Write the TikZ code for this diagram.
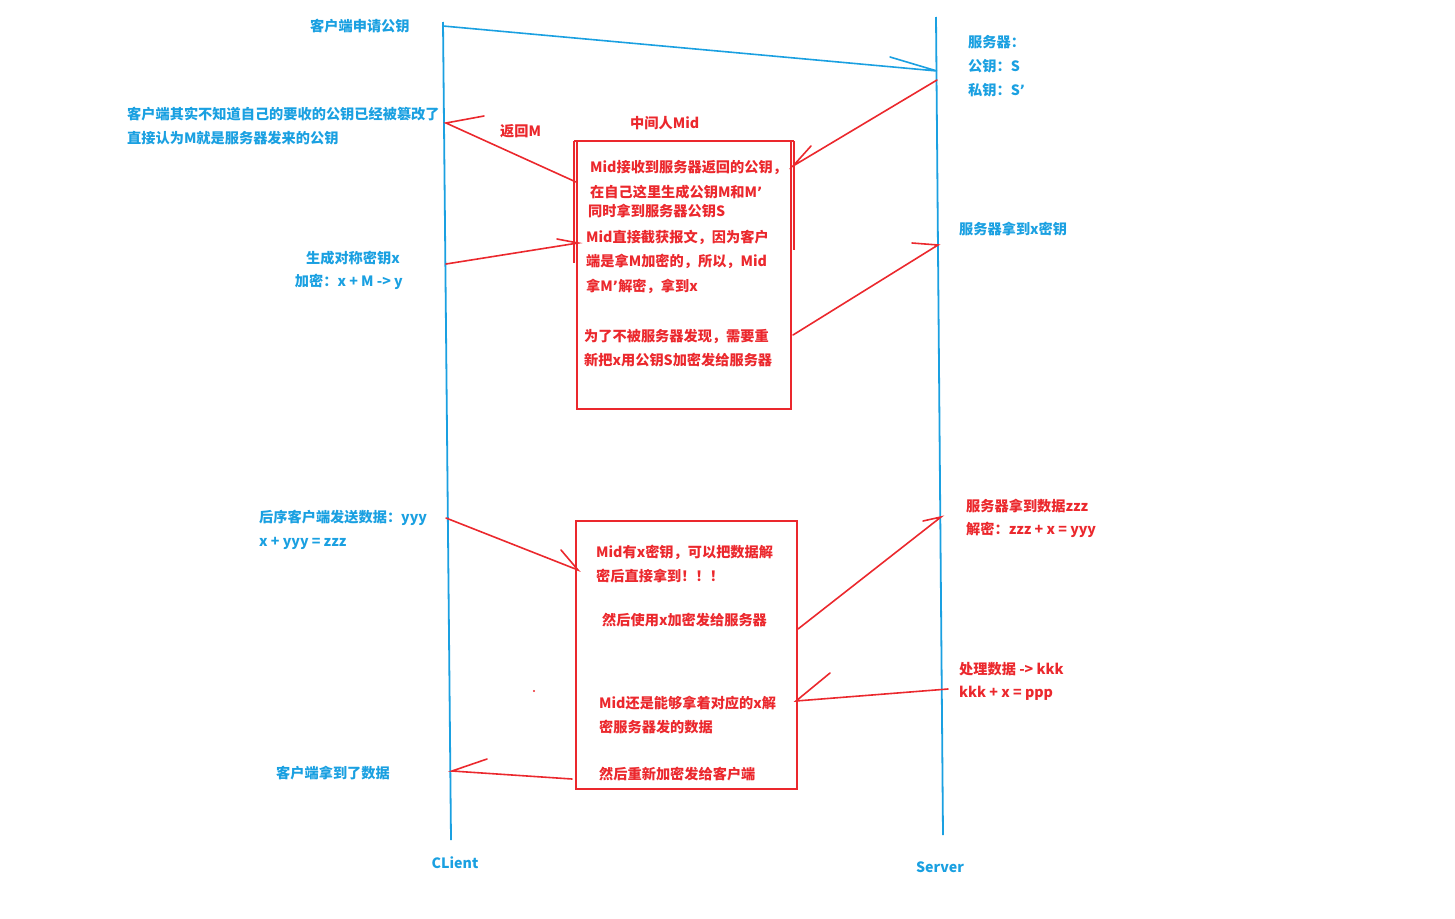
\documentclass[tikz,border=0pt]{standalone}
\usepackage{fontspec}
\setmainfont{Noto Sans CJK SC}
\newfontfamily\latinf{DejaVu Sans}
\newcommand{\apos}{{\latinf\bfseries ’}}
\definecolor{cblue}{RGB}{26,160,225}
\definecolor{cred}{RGB}{235,40,45}
\begin{document}
\begin{tikzpicture}[x=1pt,y=-1pt,
  lbl/.style={font=\bfseries\fontsize{14.2}{16}\selectfont, inner sep=0pt, anchor=west},
  bl/.style={lbl, text=cblue},
  rd/.style={lbl, text=cred},
  life/.style={draw=cblue, line width=1.8pt},
  msgb/.style={draw=cblue, line width=1.6pt, line cap=round},
  msgr/.style={draw=cred, line width=1.6pt, line cap=round},
  boxst/.style={draw=cred, line width=1.8pt, rectangle, inner sep=0pt}]
\useasboundingbox (0,0) rectangle (1455,918);
% lifelines
\coordinate (ctop) at (443,22); \coordinate (cbot) at (451,840);
\coordinate (stop) at (936,17); \coordinate (sbot) at (943,835);
\draw[life] (ctop) -- (cbot);
\draw[life] (stop) -- (sbot);
% boxes
\node[boxst, minimum width=214pt, minimum height=268pt] (box1) at (684,275) {};
\node[boxst, minimum width=221pt, minimum height=268pt] (box2) at (686.5,655) {};
\draw[draw=cred, line width=1.8pt] (574,141) -- (574,263);
\draw[draw=cred, line width=1.8pt] (794,141) -- (794,250);
\draw[draw=cred, line width=1.8pt] (574,141) -- (794,141);
% connector coordinates
\coordinate (c1) at (443,26); \coordinate (s1) at (937,71); \coordinate (b1) at (890,57);
\coordinate (s2) at (937,80); \coordinate (m1) at (793,166); \coordinate (b2) at (811,146);
\coordinate (m2) at (576,182); \coordinate (c2) at (446,123); \coordinate (b3) at (484,116);
\coordinate (c3) at (446,264); \coordinate (m3) at (578,243); \coordinate (b4) at (557,239);
\coordinate (m4) at (793,335); \coordinate (s3) at (938,245); \coordinate (b5) at (912,243);
\coordinate (c4) at (446,518); \coordinate (m5) at (578,570); \coordinate (b6) at (561,550);
\coordinate (m6) at (798,629); \coordinate (s4) at (941,517); \coordinate (b7) at (923,521);
\coordinate (s5) at (948,689); \coordinate (m7) at (796,701); \coordinate (b8) at (830,673);
\coordinate (m8) at (572,779); \coordinate (c5) at (452,771); \coordinate (b9) at (487,759);
% connectors
\draw[msgb] (c1) -- (s1) -- (b1);
\draw[msgr] (s2) -- (m1) -- (b2);
\draw[msgr] (m2) -- (c2) -- (b3);
\draw[msgr] (c3) -- (m3) -- (b4);
\draw[msgr] (m4) -- (s3) -- (b5);
\draw[msgr] (c4) -- (m5) -- (b6);
\draw[msgr] (m6) -- (s4) -- (b7);
\draw[msgr] (s5) -- (m7) -- (b8);
\draw[msgr] (m8) -- (c5) -- (b9);
\fill[cred] (534,691) circle (1.2);
% blue labels
\node[bl] (t1) at (310,26) {客户端申请公钥};
\node[bl] (t2) at (127,114) {客户端其实不知道自己的要收的公钥已经被篡改了};
\node[bl] (t3) at (127,138) {直接认为M就是服务器发来的公钥};
\node[bl, anchor=east] (t4) at (400,258) {生成对称密钥x};
\node[bl, anchor=east] (t5) at (403,282) {加密：x + M -> y};
\node[bl] (t6) at (968,42) {服务器：};
\node[bl] (t7) at (968,66) {公钥：S};
\node[bl] (t8) at (968,90) {私钥：S\apos};
\node[bl] (t9) at (959,229) {服务器拿到x密钥};
\node[bl] (t10) at (259,518) {后序客户端发送数据：yyy};
\node[bl] (t11) at (259,543) {x + yyy = zzz};
\node[bl] (t12) at (276,773) {客户端拿到了数据};
\node[bl, anchor=center] (t13) at (455,863) {CLient};
\node[bl, anchor=center] (t14) at (940,867) {Server};
% red labels
\node[rd] (r1) at (500,131) {返回M};
\node[rd] (r2) at (630,123) {中间人Mid};
\node[rd] (r3) at (590,168) {Mid接收到服务器返回的公钥，};
\node[rd] (r4) at (590,192) {在自己这里生成公钥M和M\apos};
\node[rd] (r5) at (588,211) {同时拿到服务器公钥S};
\node[rd] (r6) at (586,237) {Mid直接截获报文，因为客户};
\node[rd] (r7) at (586,261) {端是拿M加密的，所以，Mid};
\node[rd] (r8) at (586,286) {拿M\apos 解密，拿到x};
\node[rd] (r9) at (584,336) {为了不被服务器发现，需要重};
\node[rd] (r10) at (584,360) {新把x用公钥S加密发给服务器};
\node[rd] (r11) at (596,552) {Mid有x密钥，可以把数据解};
\node[rd] (r12) at (596,576) {密后直接拿到！！！};
\node[rd] (r13) at (602,620) {然后使用x加密发给服务器};
\node[rd] (r14) at (599,703) {Mid还是能够拿着对应的x解};
\node[rd] (r15) at (599,727) {密服务器发的数据};
\node[rd] (r16) at (599,774) {然后重新加密发给客户端};
\node[rd] (r17) at (966,506) {服务器拿到数据zzz};
\node[rd] (r18) at (966,530) {解密：zzz + x = yyy};
\node[rd] (r19) at (959,669) {处理数据 -> kkk};
\node[rd] (r20) at (959,693) {kkk + x = ppp};
\end{tikzpicture}
\end{document}
